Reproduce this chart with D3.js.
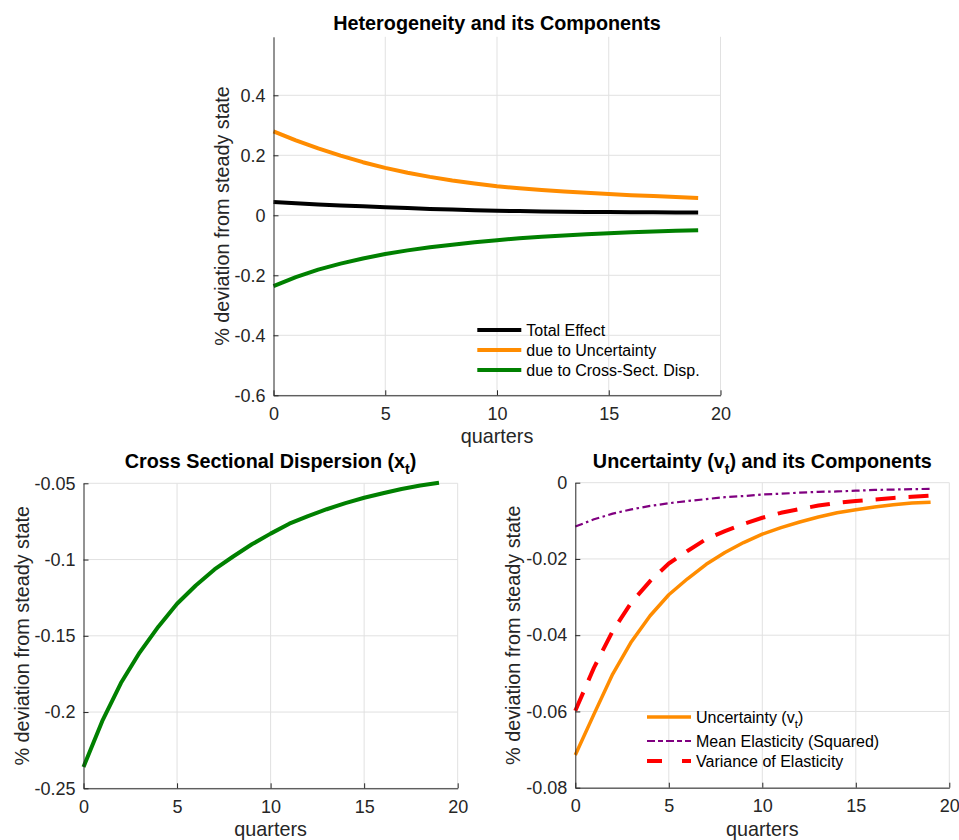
<!DOCTYPE html>
<html>
<head>
<meta charset="utf-8">
<script src="https://cdn.jsdelivr.net/npm/d3@7"></script>
<style>
  body { margin: 0; background: #fff; }
  svg { display: block; }
  text { font-family: "Liberation Sans", Arial, Helvetica, sans-serif; }
</style>
</head>
<body>
<svg id="fig" width="959" height="840"></svg>
<script>
// ---- data: impulse responses, % deviation from steady state, by quarter ----
const quarters = [0, 1, 2, 3, 4, 5, 6, 7, 8, 9, 10, 11, 12, 13, 14, 15, 16, 17, 18, 19];

const totalEffect = [0.044, 0.040, 0.036, 0.033, 0.030, 0.027, 0.024, 0.021, 0.019, 0.017,
                     0.015, 0.014, 0.013, 0.012, 0.011, 0.011, 0.010, 0.010, 0.009, 0.009];
const dueToUncertainty = [0.280, 0.250, 0.223, 0.199, 0.177, 0.158, 0.142, 0.128, 0.116, 0.106,
                          0.097, 0.090, 0.084, 0.079, 0.075, 0.071, 0.067, 0.064, 0.061, 0.058];
const crossSectionalDispersion = [-0.236, -0.206, -0.181, -0.161, -0.144, -0.129, -0.117, -0.1065, -0.098, -0.090,
                                  -0.083, -0.0765, -0.0715, -0.0670, -0.0630, -0.0595, -0.0565, -0.0537, -0.0515, -0.0497];

const uncertaintyV = [-0.0714, -0.0607, -0.0502, -0.0417, -0.0349, -0.0294, -0.0252, -0.0214, -0.0183, -0.0157,
                      -0.0135, -0.0118, -0.0103, -0.0090, -0.0079, -0.0071, -0.0064, -0.0058, -0.0053, -0.0051];
const meanElasticitySquared = [-0.0115, -0.0096, -0.0081, -0.0070, -0.0061, -0.0054, -0.0048, -0.0043, -0.0038, -0.0035,
                               -0.0031, -0.0029, -0.0026, -0.0024, -0.0023, -0.0021, -0.0019, -0.0018, -0.0017, -0.0016];
const varianceOfElasticity = [-0.0598, -0.0485, -0.0389, -0.0314, -0.0258, -0.0212, -0.0179, -0.0148, -0.0127, -0.0108,
                              -0.0092, -0.0079, -0.0069, -0.0060, -0.0053, -0.0048, -0.0044, -0.0040, -0.0037, -0.0034];

// ---- tick values and labels ----
const xTicks = [0, 5, 10, 15, 20];
const xTickLabels = ["0", "5", "10", "15", "20"];
const topYTicks = [-0.6, -0.4, -0.2, 0, 0.2, 0.4];
const topYTickLabels = ["-0.6", "-0.4", "-0.2", "0", "0.2", "0.4"];
const dispYTicks = [-0.25, -0.2, -0.15, -0.1, -0.05];
const dispYTickLabels = ["-0.25", "-0.2", "-0.15", "-0.1", "-0.05"];
const uncYTicks = [-0.08, -0.06, -0.04, -0.02, 0];
const uncYTickLabels = ["-0.08", "-0.06", "-0.04", "-0.02", "0"];

const AXIS_COLOR = "#262626";
const GRID_COLOR = "#e1e1e1";
const TICK_FONT = 18;
const LABEL_FONT = 19.8;
const LEGEND_FONT = 16;

const svg = d3.select("#fig");

// Adds text with an optional subscript part: parts = [main, sub, tail]
function richText(sel, parts, size) {
  sel.append("tspan").text(parts[0]);
  if (parts.length > 1) {
    sel.append("tspan").attr("dy", size * 0.32).attr("font-size", size * 0.72).text(parts[1]);
    sel.append("tspan").attr("dy", -size * 0.32).text(parts[2]);
  }
  return sel;
}

function drawPanel(cfg) {
  const g = svg.append("g");
  const x = d3.scaleLinear().domain([0, 20]).range([cfg.left, cfg.right]);
  const y = d3.scaleLinear().domain(cfg.yDomain).range([cfg.bottom, cfg.top]);

  // grid
  g.append("g").selectAll("line").data(xTicks.slice(1)).join("line")
    .attr("x1", d => x(d)).attr("x2", d => x(d))
    .attr("y1", cfg.bottom).attr("y2", cfg.top)
    .attr("stroke", GRID_COLOR).attr("stroke-width", 1);
  g.append("g").selectAll("line").data(cfg.yTicks).join("line")
    .attr("x1", cfg.left).attr("x2", cfg.right)
    .attr("y1", d => y(d)).attr("y2", d => y(d))
    .attr("stroke", GRID_COLOR).attr("stroke-width", 1);

  // series
  const line = d3.line().x((d, i) => x(quarters[i])).y(d => y(d));
  cfg.series.forEach(s => {
    g.append("path")
      .datum(s.values)
      .attr("d", line)
      .attr("fill", "none")
      .attr("stroke", s.color)
      .attr("stroke-width", s.width)
      .attr("stroke-dasharray", s.dash || null)
      .attr("stroke-linejoin", "round");
  });

  // axes (ticks pointing inward, no box)
  const xAxis = d3.axisBottom(x).tickValues(xTicks)
    .tickFormat((d, i) => xTickLabels[i]).tickSize(-5).tickSizeOuter(0).tickPadding(12);
  const yAxis = d3.axisLeft(y).tickValues(cfg.yTicks)
    .tickFormat((d, i) => cfg.yTickLabels[i]).tickSize(-5).tickSizeOuter(0).tickPadding(8);

  const gx = g.append("g").attr("transform", `translate(0,${cfg.bottom})`).call(xAxis);
  const gy = g.append("g").attr("transform", `translate(${cfg.left},0)`).call(yAxis);
  [gx, gy].forEach(a => {
    a.attr("font-family", null);
    a.select(".domain").attr("stroke", AXIS_COLOR).attr("stroke-width", 1);
    a.selectAll(".tick line").attr("stroke", AXIS_COLOR);
    a.selectAll(".tick text").attr("fill", AXIS_COLOR).attr("font-size", TICK_FONT);
  });

  // title
  richText(g.append("text")
    .attr("x", (cfg.left + cfg.right) / 2).attr("y", cfg.titleY)
    .attr("text-anchor", "middle").attr("font-weight", "bold")
    .attr("font-size", LABEL_FONT).attr("fill", "#000"), cfg.title, LABEL_FONT);

  // axis labels
  g.append("text")
    .attr("x", (cfg.left + cfg.right) / 2).attr("y", cfg.bottom + 48)
    .attr("text-anchor", "middle").attr("font-size", LABEL_FONT).attr("fill", AXIS_COLOR)
    .text("quarters");
  g.append("text")
    .attr("transform", `translate(${cfg.yLabelX},${(cfg.top + cfg.bottom) / 2}) rotate(-90)`)
    .attr("text-anchor", "middle").attr("font-size", LABEL_FONT).attr("fill", AXIS_COLOR)
    .text("% deviation from steady state");

  // legend (no box)
  if (cfg.legend) {
    const lg = g.append("g");
    cfg.legend.items.forEach((s, i) => {
      const ry = cfg.legend.rows[i];
      lg.append("line")
        .attr("x1", cfg.legend.x).attr("x2", cfg.legend.x + 44)
        .attr("y1", ry).attr("y2", ry)
        .attr("stroke", s.color).attr("stroke-width", s.width)
        .attr("stroke-dasharray", s.legendDash || s.dash || null);
      richText(lg.append("text")
        .attr("x", cfg.legend.x + 49).attr("y", ry + 6)
        .attr("font-size", LEGEND_FONT).attr("fill", "#000"), s.label, LEGEND_FONT);
    });
  }
}

// Heterogeneity and its components
const topSeries = [
  { values: totalEffect, color: "#000000", width: 4, label: ["Total Effect"] },
  { values: dueToUncertainty, color: "#ff8c00", width: 4, label: ["due to Uncertainty"] },
  { values: crossSectionalDispersion, color: "#008000", width: 4, label: ["due to Cross-Sect. Disp."] }
];
drawPanel({
  left: 273.5, right: 720.5, top: 36.8, bottom: 395.3,
  yDomain: [-0.6, 0.595], yTicks: topYTicks, yTickLabels: topYTickLabels,
  title: ["Heterogeneity and its Components"], titleY: 30,
  yLabelX: 228.5,
  series: topSeries,
  legend: { x: 477.3, rows: [330, 350, 370], items: topSeries }
});

// Cross sectional dispersion
drawPanel({
  left: 83.5, right: 457.7, top: 483.3, bottom: 788.3,
  yDomain: [-0.25, -0.05], yTicks: dispYTicks, yTickLabels: dispYTickLabels,
  title: ["Cross Sectional Dispersion (x", "t", ")"], titleY: 467.5,
  yLabelX: 28.5,
  series: [{ values: crossSectionalDispersion, color: "#008000", width: 4 }]
});

// Uncertainty and its components
const uncSeries = [
  { values: uncertaintyV, color: "#ff8c00", width: 3.5, label: ["Uncertainty (v", "t", ")"] },
  { values: meanElasticitySquared, color: "#800080", width: 2.2, dash: "8,3.5,2.5,3.5",
    legendDash: "8,3,5,3", label: ["Mean Elasticity (Squared)"] },
  { values: varianceOfElasticity, color: "#ff0000", width: 4, dash: "20,13",
    legendDash: "15,20", label: ["Variance of Elasticity"] }
];
drawPanel({
  left: 575.3, right: 949.3, top: 482.7, bottom: 787.7,
  yDomain: [-0.08, 0], yTicks: uncYTicks, yTickLabels: uncYTickLabels,
  title: ["Uncertainty (v", "t", ") and its Components"], titleY: 467.5,
  yLabelX: 520,
  series: uncSeries,
  legend: { x: 647, rows: [717, 741, 761], items: uncSeries }
});
</script>
</body>
</html>
